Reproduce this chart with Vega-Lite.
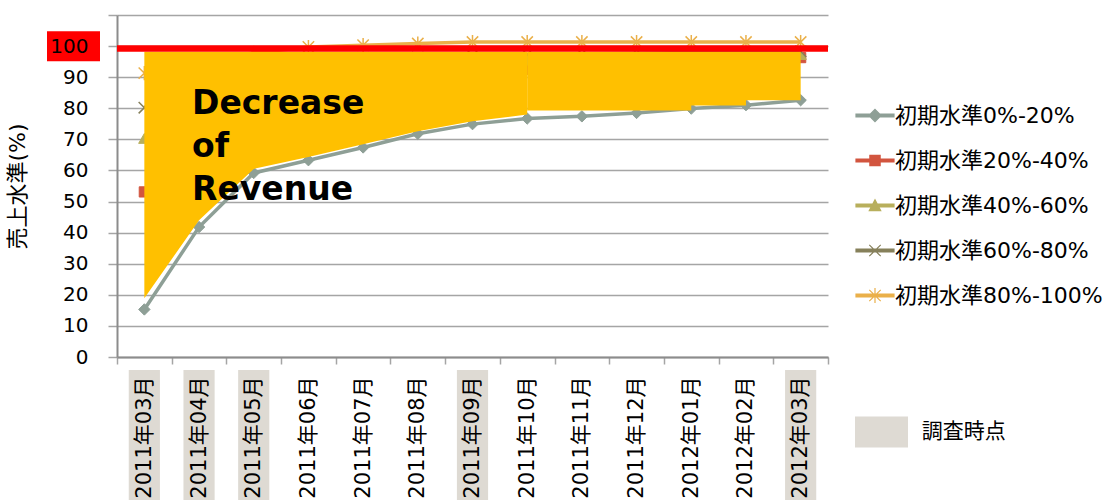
{
  "$schema": "https://vega.github.io/schema/vega-lite/v6.json",
  "width": 711,
  "height": 342,
  "autosize": {"type": "none"},
  "padding": {"left": 117, "top": 15, "right": 283, "bottom": 143},
  "background": "white",
  "config": {
    "view": {"stroke": null},
    "font": "DejaVu Sans, Noto Sans CJK JP"
  },
  "datasets": {
    "revenue": [
      {"month": "2011年03月", "series": "初期水準0%-20%", "value": 15.3},
      {"month": "2011年04月", "series": "初期水準0%-20%", "value": 41.8},
      {"month": "2011年05月", "series": "初期水準0%-20%", "value": 59.2},
      {"month": "2011年06月", "series": "初期水準0%-20%", "value": 63.3},
      {"month": "2011年07月", "series": "初期水準0%-20%", "value": 67.4},
      {"month": "2011年08月", "series": "初期水準0%-20%", "value": 71.8},
      {"month": "2011年09月", "series": "初期水準0%-20%", "value": 74.9},
      {"month": "2011年10月", "series": "初期水準0%-20%", "value": 76.7},
      {"month": "2011年11月", "series": "初期水準0%-20%", "value": 77.4},
      {"month": "2011年12月", "series": "初期水準0%-20%", "value": 78.5},
      {"month": "2012年01月", "series": "初期水準0%-20%", "value": 79.9},
      {"month": "2012年02月", "series": "初期水準0%-20%", "value": 81.0},
      {"month": "2012年03月", "series": "初期水準0%-20%", "value": 82.6},
      {"month": "2011年03月", "series": "初期水準20%-40%", "value": 53.1},
      {"month": "2011年04月", "series": "初期水準20%-40%", "value": 74.0},
      {"month": "2011年05月", "series": "初期水準20%-40%", "value": 83.0},
      {"month": "2011年06月", "series": "初期水準20%-40%", "value": 86.5},
      {"month": "2011年07月", "series": "初期水準20%-40%", "value": 88.5},
      {"month": "2011年08月", "series": "初期水準20%-40%", "value": 90.0},
      {"month": "2011年09月", "series": "初期水準20%-40%", "value": 91.5},
      {"month": "2011年10月", "series": "初期水準20%-40%", "value": 92.5},
      {"month": "2011年11月", "series": "初期水準20%-40%", "value": 93.0},
      {"month": "2011年12月", "series": "初期水準20%-40%", "value": 93.5},
      {"month": "2012年01月", "series": "初期水準20%-40%", "value": 94.5},
      {"month": "2012年02月", "series": "初期水準20%-40%", "value": 95.5},
      {"month": "2012年03月", "series": "初期水準20%-40%", "value": 96.3},
      {"month": "2011年03月", "series": "初期水準40%-60%", "value": 70.3},
      {"month": "2011年04月", "series": "初期水準40%-60%", "value": 84.0},
      {"month": "2011年05月", "series": "初期水準40%-60%", "value": 89.5},
      {"month": "2011年06月", "series": "初期水準40%-60%", "value": 91.5},
      {"month": "2011年07月", "series": "初期水準40%-60%", "value": 93.0},
      {"month": "2011年08月", "series": "初期水準40%-60%", "value": 94.0},
      {"month": "2011年09月", "series": "初期水準40%-60%", "value": 95.0},
      {"month": "2011年10月", "series": "初期水準40%-60%", "value": 95.5},
      {"month": "2011年11月", "series": "初期水準40%-60%", "value": 96.0},
      {"month": "2011年12月", "series": "初期水準40%-60%", "value": 96.2},
      {"month": "2012年01月", "series": "初期水準40%-60%", "value": 96.5},
      {"month": "2012年02月", "series": "初期水準40%-60%", "value": 97.0},
      {"month": "2012年03月", "series": "初期水準40%-60%", "value": 97.3},
      {"month": "2011年03月", "series": "初期水準60%-80%", "value": 80.2},
      {"month": "2011年04月", "series": "初期水準60%-80%", "value": 89.0},
      {"month": "2011年05月", "series": "初期水準60%-80%", "value": 93.0},
      {"month": "2011年06月", "series": "初期水準60%-80%", "value": 94.5},
      {"month": "2011年07月", "series": "初期水準60%-80%", "value": 95.5},
      {"month": "2011年08月", "series": "初期水準60%-80%", "value": 96.3},
      {"month": "2011年09月", "series": "初期水準60%-80%", "value": 97.0},
      {"month": "2011年10月", "series": "初期水準60%-80%", "value": 97.3},
      {"month": "2011年11月", "series": "初期水準60%-80%", "value": 97.5},
      {"month": "2011年12月", "series": "初期水準60%-80%", "value": 97.7},
      {"month": "2012年01月", "series": "初期水準60%-80%", "value": 97.9},
      {"month": "2012年02月", "series": "初期水準60%-80%", "value": 98.1},
      {"month": "2012年03月", "series": "初期水準60%-80%", "value": 98.3},
      {"month": "2011年03月", "series": "初期水準80%-100%", "value": 91.3},
      {"month": "2011年04月", "series": "初期水準80%-100%", "value": 95.5},
      {"month": "2011年05月", "series": "初期水準80%-100%", "value": 97.8},
      {"month": "2011年06月", "series": "初期水準80%-100%", "value": 99.7},
      {"month": "2011年07月", "series": "初期水準80%-100%", "value": 100.3},
      {"month": "2011年08月", "series": "初期水準80%-100%", "value": 100.8},
      {"month": "2011年09月", "series": "初期水準80%-100%", "value": 101.3},
      {"month": "2011年10月", "series": "初期水準80%-100%", "value": 101.3},
      {"month": "2011年11月", "series": "初期水準80%-100%", "value": 101.3},
      {"month": "2011年12月", "series": "初期水準80%-100%", "value": 101.3},
      {"month": "2012年01月", "series": "初期水準80%-100%", "value": 101.3},
      {"month": "2012年02月", "series": "初期水準80%-100%", "value": 101.3},
      {"month": "2012年03月", "series": "初期水準80%-100%", "value": 101.3}
    ],
    "decline_curve": [
      {"month": "2011年03月", "lo": 18.9, "hi": 98.2},
      {"month": "2011年04月", "lo": 44.0, "hi": 98.2},
      {"month": "2011年05月", "lo": 60.5, "hi": 98.2},
      {"month": "2011年06月", "lo": 64.3, "hi": 98.2},
      {"month": "2011年07月", "lo": 68.4, "hi": 98.2},
      {"month": "2011年08月", "lo": 72.6, "hi": 98.2},
      {"month": "2011年09月", "lo": 75.8, "hi": 98.2},
      {"month": "2011年10月", "lo": 78.0, "hi": 98.2}
    ],
    "decline_steps": [
      {"month": "2011年10月", "lo": 79.3, "hi": 98.2},
      {"month": "2011年11月", "lo": 79.3, "hi": 98.2},
      {"month": "2011年12月", "lo": 79.3, "hi": 98.2},
      {"month": "2012年01月", "lo": 80.9, "hi": 98.2},
      {"month": "2012年02月", "lo": 82.6, "hi": 98.2},
      {"month": "2012年03月", "lo": 82.6, "hi": 98.2}
    ],
    "survey": [
      {"month": "2011年03月", "kind": "調査時点"},
      {"month": "2011年04月", "kind": "調査時点"},
      {"month": "2011年05月", "kind": "調査時点"},
      {"month": "2011年09月", "kind": "調査時点"},
      {"month": "2012年03月", "kind": "調査時点"}
    ]
  },
  "resolve": {"axis": {"y": "independent"}},
  "layer": [
    {
      "data": {"name": "survey"},
      "mark": {"type": "bar", "width": {"band": 0.57}, "clip": false, "opacity": 1},
      "encoding": {
        "x": {"field": "month", "type": "nominal", "scale": {"type": "band", "domain": ["2011年03月","2011年04月","2011年05月","2011年06月","2011年07月","2011年08月","2011年09月","2011年10月","2011年11月","2011年12月","2012年01月","2012年02月","2012年03月"], "paddingInner": 0, "paddingOuter": 0}},
        "y": {"datum": -4.2, "type": "quantitative", "scale": {"domain": [0, 110], "nice": false}, "axis": null},
        "y2": {"datum": -47},
        "fill": {
          "field": "kind", "type": "nominal",
          "scale": {"range": ["#DEDAD3"]},
          "legend": {
            "orient": "none", "legendX": 738, "legendY": 390.5, "title": null, "padding": 0,
            "symbolType": "M-1,-0.585H1V0.585H-1Z", "symbolSize": 2809, "symbolStrokeWidth": 0,
            "labelFontSize": 21, "labelOffset": 13.7, "labelColor": "#000000"
          }
        }
      }
    },
    {
      "data": {"name": "revenue"},
      "mark": {"type": "line", "strokeWidth": 3.5},
      "encoding": {
        "x": {
          "field": "month", "type": "nominal",
          "scale": {"type": "band", "domain": ["2011年03月","2011年04月","2011年05月","2011年06月","2011年07月","2011年08月","2011年09月","2011年10月","2011年11月","2011年12月","2012年01月","2012年02月","2012年03月"], "paddingInner": 0, "paddingOuter": 0},
          "axis": {
            "title": null, "labelAngle": 270, "labelFontSize": 21, "labelColor": "#000000",
            "labelPadding": 12, "labelOverlap": false, "labelLimit": 0,
            "tickBand": "extent", "tickSize": 7, "tickColor": "#A5A5A5", "tickWidth": 1.5,
            "domainColor": "#8C8C8C", "domainWidth": 2, "zindex": 1
          }
        },
        "y": {
          "field": "value", "type": "quantitative",
          "scale": {"domain": [0, 110], "nice": false},
          "axis": {
            "orient": "left", "values": [0, 10, 20, 30, 40, 50, 60, 70, 80, 90, 100, 110],
            "grid": true, "gridColor": "#A5A5A5", "gridWidth": 1.5,
            "labels": false, "ticks": true, "tickSize": 9, "tickColor": "#A5A5A5", "tickWidth": 1.5,
            "domain": true, "domainColor": "#8C8C8C", "domainWidth": 2, "title": null, "zindex": 0
          }
        },
        "color": {
          "field": "series", "type": "nominal",
          "scale": {
            "domain": ["初期水準0%-20%", "初期水準20%-40%", "初期水準40%-60%", "初期水準60%-80%", "初期水準80%-100%"],
            "range": ["#8E9F96", "#D2553F", "#B8AF5C", "#86805B", "#EAB04A"]
          },
          "legend": {
            "orient": "none", "legendX": 738, "legendY": 80.5, "title": null, "padding": 0,
            "symbolSize": 1444, "symbolStrokeWidth": 1.2, "rowPadding": 14,
            "labelFontSize": 22, "labelOffset": 0, "labelColor": "#000000", "labelLimit": 400,
            "encode": {
              "symbols": {
                "update": {
                  "shape": {"signal": "datum.value === '初期水準0%-20%' ? 'M-1,-0.08H1V0.08H-1Z M0,-0.32L0.32,0L0,0.32L-0.32,0Z' : datum.value === '初期水準20%-40%' ? 'M-1,-0.08H1V0.08H-1Z M-0.27,-0.27H0.27V0.27H-0.27Z' : datum.value === '初期水準40%-60%' ? 'M-1,-0.08H1V0.08H-1Z M0,-0.3L0.3,0.27H-0.3Z' : datum.value === '初期水準60%-80%' ? 'M-1,-0.08H1V0.08H-1Z M-0.3,-0.3L0.3,0.3M-0.3,0.3L0.3,-0.3' : 'M-1,-0.08H1V0.08H-1Z M-0.3,-0.3L0.3,0.3M-0.3,0.3L0.3,-0.3M0,-0.4V0.4'"},
                  "fill": {"scale": "color", "field": "value"},
                  "stroke": {"scale": "color", "field": "value"},
                  "strokeWidth": {"value": 1.2},
                  "opacity": {"value": 1}
                }
              }
            }
          }
        }
      }
    },
    {
      "data": {"name": "revenue"},
      "transform": [{"filter": {"field": "series", "equal": "初期水準0%-20%"}}],
      "mark": {"type": "point", "shape": "diamond", "filled": true, "opacity": 1, "size": 130, "stroke": "#8E9F96", "strokeWidth": 1},
      "encoding": {
        "x": {"field": "month", "type": "nominal", "scale": {"type": "band", "domain": ["2011年03月","2011年04月","2011年05月","2011年06月","2011年07月","2011年08月","2011年09月","2011年10月","2011年11月","2011年12月","2012年01月","2012年02月","2012年03月"], "paddingInner": 0, "paddingOuter": 0}},
        "y": {"field": "value", "type": "quantitative", "scale": {"domain": [0, 110], "nice": false}, "axis": null},
        "color": {"field": "series", "type": "nominal"}
      }
    },
    {
      "data": {"name": "revenue"},
      "transform": [{"filter": {"field": "series", "equal": "初期水準20%-40%"}}],
      "mark": {"type": "point", "shape": "square", "filled": true, "opacity": 1, "size": 105, "stroke": "#D2553F", "strokeWidth": 1},
      "encoding": {
        "x": {"field": "month", "type": "nominal", "scale": {"type": "band", "domain": ["2011年03月","2011年04月","2011年05月","2011年06月","2011年07月","2011年08月","2011年09月","2011年10月","2011年11月","2011年12月","2012年01月","2012年02月","2012年03月"], "paddingInner": 0, "paddingOuter": 0}},
        "y": {"field": "value", "type": "quantitative", "scale": {"domain": [0, 110], "nice": false}, "axis": null},
        "color": {"field": "series", "type": "nominal"}
      }
    },
    {
      "data": {"name": "revenue"},
      "transform": [{"filter": {"field": "series", "equal": "初期水準40%-60%"}}],
      "mark": {"type": "point", "shape": "triangle-up", "filled": true, "opacity": 1, "size": 130, "stroke": "#B8AF5C", "strokeWidth": 1},
      "encoding": {
        "x": {"field": "month", "type": "nominal", "scale": {"type": "band", "domain": ["2011年03月","2011年04月","2011年05月","2011年06月","2011年07月","2011年08月","2011年09月","2011年10月","2011年11月","2011年12月","2012年01月","2012年02月","2012年03月"], "paddingInner": 0, "paddingOuter": 0}},
        "y": {"field": "value", "type": "quantitative", "scale": {"domain": [0, 110], "nice": false}, "axis": null},
        "color": {"field": "series", "type": "nominal"}
      }
    },
    {
      "data": {"name": "revenue"},
      "transform": [{"filter": {"field": "series", "equal": "初期水準60%-80%"}}],
      "mark": {"type": "point", "shape": "M-1,-1L1,1M-1,1L1,-1", "filled": true, "opacity": 1, "size": 130, "stroke": "#86805B", "strokeWidth": 1.5},
      "encoding": {
        "x": {"field": "month", "type": "nominal", "scale": {"type": "band", "domain": ["2011年03月","2011年04月","2011年05月","2011年06月","2011年07月","2011年08月","2011年09月","2011年10月","2011年11月","2011年12月","2012年01月","2012年02月","2012年03月"], "paddingInner": 0, "paddingOuter": 0}},
        "y": {"field": "value", "type": "quantitative", "scale": {"domain": [0, 110], "nice": false}, "axis": null},
        "color": {"field": "series", "type": "nominal"}
      }
    },
    {
      "data": {"name": "revenue"},
      "transform": [{"filter": {"field": "series", "equal": "初期水準80%-100%"}}],
      "mark": {"type": "point", "shape": "M-1,-1L1,1M-1,1L1,-1M0,-1.25V1.25", "filled": true, "opacity": 1, "size": 130, "stroke": "#EAB04A", "strokeWidth": 1.5},
      "encoding": {
        "x": {"field": "month", "type": "nominal", "scale": {"type": "band", "domain": ["2011年03月","2011年04月","2011年05月","2011年06月","2011年07月","2011年08月","2011年09月","2011年10月","2011年11月","2011年12月","2012年01月","2012年02月","2012年03月"], "paddingInner": 0, "paddingOuter": 0}},
        "y": {"field": "value", "type": "quantitative", "scale": {"domain": [0, 110], "nice": false}, "axis": null},
        "color": {"field": "series", "type": "nominal"}
      }
    },
    {
      "data": {"name": "decline_curve"},
      "mark": {"type": "area", "color": "#FFC000", "opacity": 1},
      "encoding": {
        "x": {"field": "month", "type": "nominal", "scale": {"type": "band", "domain": ["2011年03月","2011年04月","2011年05月","2011年06月","2011年07月","2011年08月","2011年09月","2011年10月","2011年11月","2011年12月","2012年01月","2012年02月","2012年03月"], "paddingInner": 0, "paddingOuter": 0}},
        "y": {"field": "lo", "type": "quantitative", "scale": {"domain": [0, 110], "nice": false}, "axis": null},
        "y2": {"field": "hi"}
      }
    },
    {
      "data": {"name": "decline_steps"},
      "mark": {"type": "area", "color": "#FFC000", "opacity": 1, "interpolate": "step-after"},
      "encoding": {
        "x": {"field": "month", "type": "nominal", "scale": {"type": "band", "domain": ["2011年03月","2011年04月","2011年05月","2011年06月","2011年07月","2011年08月","2011年09月","2011年10月","2011年11月","2011年12月","2012年01月","2012年02月","2012年03月"], "paddingInner": 0, "paddingOuter": 0}},
        "y": {"field": "lo", "type": "quantitative", "scale": {"domain": [0, 110], "nice": false}, "axis": null},
        "y2": {"field": "hi"}
      }
    },
    {
      "data": {"values": [{}]},
      "mark": {"type": "rule", "color": "#FF0000", "strokeWidth": 6.5},
      "encoding": {
        "y": {"datum": 99.2, "type": "quantitative", "scale": {"domain": [0, 110], "nice": false}, "axis": null}
      }
    },
    {
      "data": {"values": [{}]},
      "mark": {
        "type": "text", "text": ["Decrease", "of", "Revenue"],
        "font": "DejaVu Sans", "fontSize": 33, "fontWeight": "bold", "color": "#000000",
        "align": "left", "baseline": "alphabetic", "lineHeight": 43, "dx": -7
      },
      "encoding": {
        "x": {"datum": "2011年04月", "type": "nominal", "scale": {"type": "band", "domain": ["2011年03月","2011年04月","2011年05月","2011年06月","2011年07月","2011年08月","2011年09月","2011年10月","2011年11月","2011年12月","2012年01月","2012年02月","2012年03月"], "paddingInner": 0, "paddingOuter": 0}},
        "y": {"datum": 78.3, "type": "quantitative", "scale": {"domain": [0, 110], "nice": false}, "axis": null}
      }
    },
    {
      "data": {"values": [{}]},
      "mark": {"type": "rect", "color": "#FF0000", "clip": false},
      "encoding": {
        "x": {"value": -70},
        "x2": {"value": -17},
        "y": {
          "datum": 104.8, "type": "quantitative",
          "scale": {"domain": [0, 110], "nice": false},
          "axis": {
            "orient": "left", "values": [0, 10, 20, 30, 40, 50, 60, 70, 80, 90, 100],
            "grid": false, "domain": false, "ticks": false,
            "labelFontSize": 20, "labelColor": "#000000", "labelPadding": 29,
            "title": "売上水準(%)", "titleFontSize": 22, "titleFontWeight": "normal",
            "titleColor": "#000000", "titlePadding": 20, "zindex": 1
          }
        },
        "y2": {"datum": 95.1}
      }
    }
  ]
}
